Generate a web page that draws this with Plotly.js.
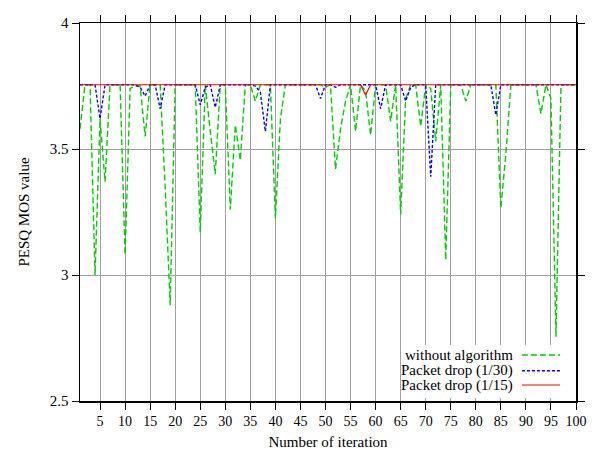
<!DOCTYPE html>
<html>
<head>
<meta charset="utf-8">
<script src="https://cdn.plot.ly/plotly-3.0.1.min.js"></script>
<style>html,body{margin:0;padding:0;background:#fff;}#chart{width:594px;height:452px;}</style>
</head>
<body>
<div id="chart"></div>
<script>
var iterations = [1,2,3,4,5,6,7,8,9,10,11,12,13,14,15,16,17,18,19,20,
  21,22,23,24,25,26,27,28,29,30,31,32,33,34,35,36,37,38,39,40,
  41,42,43,44,45,46,47,48,49,50,51,52,53,54,55,56,57,58,59,60,
  61,62,63,64,65,66,67,68,69,70,71,72,73,74,75,76,77,78,79,80,
  81,82,83,84,85,86,87,88,89,90,91,92,93,94,95,96,97,98,99,100];

var withoutAlgorithm = [
  3.58,3.755,3.755,3.00,3.62,3.37,3.755,3.755,3.755,3.08,
  3.74,3.75,3.75,3.55,3.755,3.755,3.755,3.35,2.88,3.755,
  3.755,3.755,3.755,3.755,3.17,3.755,3.57,3.40,3.755,3.755,
  3.26,3.595,3.455,3.755,3.755,3.69,3.755,3.755,3.755,3.225,
  3.62,3.755,3.755,3.755,3.755,3.755,3.755,3.755,3.755,3.745,
  3.755,3.42,3.58,3.69,3.755,3.57,3.755,3.73,3.555,3.755,
  3.755,3.755,3.61,3.755,3.24,3.70,3.755,3.755,3.59,3.755,
  3.74,3.53,3.755,3.06,3.755,3.755,3.755,3.69,3.755,3.755,
  3.755,3.755,3.755,3.755,3.265,3.48,3.755,3.755,3.755,3.755,
  3.755,3.755,3.64,3.755,3.70,2.755,3.755,3.755,3.755,3.755];

var drop30 = [
  3.755,3.755,3.755,3.755,3.62,3.755,3.755,3.755,3.755,3.755,
  3.755,3.755,3.745,3.71,3.755,3.755,3.66,3.755,3.755,3.755,
  3.755,3.755,3.755,3.755,3.675,3.745,3.755,3.665,3.755,3.755,
  3.755,3.755,3.755,3.755,3.755,3.75,3.725,3.57,3.755,3.755,
  3.755,3.755,3.755,3.755,3.755,3.755,3.755,3.755,3.70,3.755,
  3.755,3.745,3.755,3.755,3.755,3.755,3.755,3.755,3.755,3.755,
  3.66,3.755,3.755,3.755,3.755,3.69,3.745,3.755,3.755,3.755,
  3.39,3.755,3.755,3.755,3.755,3.755,3.755,3.755,3.755,3.755,
  3.755,3.755,3.755,3.635,3.755,3.755,3.755,3.755,3.755,3.755,
  3.755,3.755,3.755,3.755,3.755,3.755,3.755,3.755,3.755,3.755];

var drop15 = [
  3.755,3.755,3.755,3.755,3.755,3.755,3.755,3.755,3.755,3.755,
  3.755,3.755,3.755,3.755,3.755,3.755,3.755,3.755,3.755,3.755,
  3.755,3.755,3.755,3.755,3.755,3.755,3.755,3.755,3.755,3.755,
  3.755,3.755,3.755,3.755,3.755,3.755,3.755,3.755,3.755,3.755,
  3.755,3.755,3.755,3.755,3.755,3.755,3.755,3.755,3.755,3.755,
  3.755,3.755,3.755,3.755,3.755,3.755,3.755,3.714,3.755,3.755,
  3.755,3.755,3.755,3.755,3.755,3.755,3.755,3.755,3.755,3.755,
  3.755,3.755,3.755,3.755,3.755,3.755,3.755,3.755,3.755,3.755,
  3.755,3.755,3.755,3.755,3.755,3.755,3.755,3.755,3.755,3.755,
  3.755,3.755,3.755,3.755,3.755,3.755,3.755,3.755,3.755,3.755];

var seriesNames = ['without algorithm', 'Packet drop (1/30)', 'Packet drop (1/15)'];
var xTickVals = [5,10,15,20,25,30,35,40,45,50,55,60,65,70,75,80,85,90,95,100];
var yTickVals = [2.5,3,3.5,4];
var yTickText = ['2.5','3','3.5','4'];

var FONT = 'Liberation Serif, Times New Roman, serif';
var green = 'rgb(0,205,0)', blue = 'rgb(0,0,255)', red = 'rgb(255,0,0)';
var greenDash = '6px,3px', blueDash = '3px,2px';

var traces = [
  {x: iterations, y: withoutAlgorithm, name: seriesNames[0], mode: 'lines',
   line: {color: green, width: 1.4, dash: greenDash}},
  {x: iterations, y: drop30, name: seriesNames[1], mode: 'lines',
   line: {color: blue, width: 1.4, dash: blueDash}},
  {x: iterations, y: drop15, name: seriesNames[2], mode: 'lines',
   line: {color: red, width: 1.2}}
];

var legX0 = 0.649, legX1 = 0.996, legY0 = 0.008, legY1 = 0.148;
var rowY = [0.1217, 0.0802, 0.0423];
var txtX = 0.877, sampX0 = 0.891, sampX1 = 0.968;
var shapes = [{type: 'rect', xref: 'paper', yref: 'paper', x0: legX0, x1: legX1, y0: legY0, y1: legY1,
  fillcolor: '#ffffff', line: {width: 0}, layer: 'above'}];
var styles = [{color: green, width: 1.4, dash: greenDash}, {color: blue, width: 1.4, dash: blueDash}, {color: red, width: 1.2}];
var annotations = [];
for (var i = 0; i < 3; i++) {
  shapes.push({type: 'line', xref: 'paper', yref: 'paper', x0: sampX0, x1: sampX1, y0: rowY[i], y1: rowY[i],
    line: styles[i], layer: 'above'});
  annotations.push({xref: 'paper', yref: 'paper', x: txtX, y: rowY[i], xanchor: 'right', yanchor: 'middle',
    text: seriesNames[i], showarrow: false, font: {family: FONT, size: 15, color: '#000'}});
}

var layout = {
  width: 594, height: 452,
  margin: {l: 80, r: 18, t: 23, b: 51},
  paper_bgcolor: '#fff', plot_bgcolor: '#fff',
  showlegend: false,
  font: {family: FONT, color: '#000'},
  xaxis: {range: [1, 100], tickvals: xTickVals, showgrid: true, gridcolor: '#a0a0a0', gridwidth: 1,
    zeroline: false, showline: true, linecolor: '#000', linewidth: 1.5, mirror: 'ticks',
    ticks: 'outside', ticklen: 7, tickcolor: '#000', tickwidth: 1,
    tickfont: {family: FONT, size: 14, color: '#000'},
    title: {text: 'Number of iteration', font: {family: FONT, size: 15, color: '#000'}, standoff: 8}},
  yaxis: {range: [2.5, 4], tickvals: yTickVals, ticktext: yTickText, showgrid: true, gridcolor: '#a0a0a0', gridwidth: 1,
    zeroline: false, showline: true, linecolor: '#000', linewidth: 1.5, mirror: 'ticks',
    ticks: 'outside', ticklen: 7, tickcolor: '#000', tickwidth: 1,
    tickfont: {family: FONT, size: 15, color: '#000'},
    title: {text: 'PESQ MOS value', font: {family: FONT, size: 15, color: '#000'}, standoff: 16}},
  shapes: shapes,
  annotations: annotations
};

Plotly.newPlot('chart', traces, layout, {displayModeBar: false, staticPlot: true});
</script>
</body>
</html>
